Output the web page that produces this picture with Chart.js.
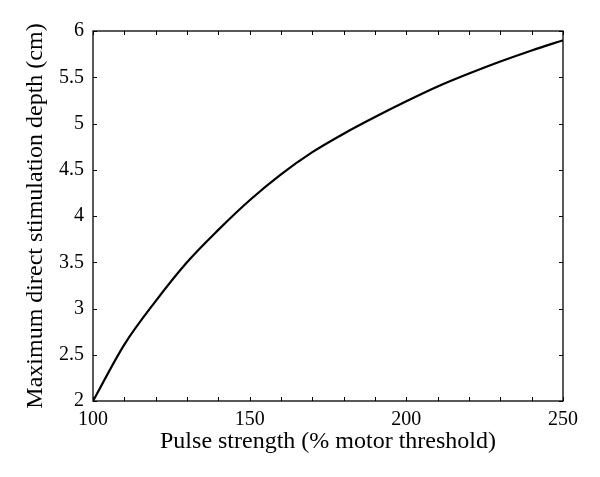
<!DOCTYPE html>
<html>
<head>
<meta charset="utf-8">
<script src="https://cdn.jsdelivr.net/npm/chart.js@4.4.1/dist/chart.umd.min.js"></script>
<style>
  html, body { margin: 0; padding: 0; background: #fff; }
  #wrap { width: 600px; height: 477px; }
</style>
</head>
<body>
<div id="wrap"><canvas id="c" width="600" height="477"></canvas></div>
<script>
// Data
const pulseStrength = [100, 110, 120, 130, 140, 150, 160, 170, 180, 190, 200, 210, 220, 230, 240, 250];
const maxDepth = [2.00, 2.61, 3.08, 3.50, 3.85, 4.17, 4.45, 4.69, 4.89, 5.07, 5.24, 5.40, 5.54, 5.67, 5.79, 5.90];
const xMinorTicks = [110, 120, 130, 140, 160, 170, 180, 190, 210, 220, 230, 240];
const xMajorTicks = [100, 150, 200, 250];
const yTicks = [2, 2.5, 3, 3.5, 4, 4.5, 5, 5.5, 6];
const xTitle = 'Pulse strength (% motor threshold)';
const yTitle = 'Maximum direct stimulation depth (cm)';

const FONT = "'Liberation Serif', 'DejaVu Serif', serif";

const boxPlugin = {
  id: 'boxTicks',
  afterDatasetsDraw(chart) {
    const {ctx, chartArea: a, scales: {x, y}} = chart;
    const L = 4;
    ctx.save();
    ctx.strokeStyle = '#000';
    ctx.lineWidth = 1;
    ctx.beginPath();
    const xs = xMinorTicks.concat(xMajorTicks);
    xs.forEach(v => {
      const px = Math.round(x.getPixelForValue(v)) + 0.5;
      ctx.moveTo(px, a.bottom); ctx.lineTo(px, a.bottom - L);
      ctx.moveTo(px, a.top); ctx.lineTo(px, a.top + L);
    });
    yTicks.forEach(v => {
      const py = Math.round(y.getPixelForValue(v)) + 0.5;
      ctx.moveTo(a.left, py); ctx.lineTo(a.left + L, py);
      ctx.moveTo(a.right, py); ctx.lineTo(a.right - L, py);
    });
    ctx.stroke();
    ctx.lineWidth = 1.3;
    ctx.strokeRect(a.left, a.top, a.right - a.left, a.bottom - a.top);
    ctx.restore();
  }
};

new Chart(document.getElementById('c'), {
  type: 'line',
  data: {
    datasets: [{
      data: pulseStrength.map((v, i) => ({x: v, y: maxDepth[i]})),
      borderColor: '#000',
      borderWidth: 2.2,
      pointRadius: 0,
      cubicInterpolationMode: 'monotone',
      fill: false
    }]
  },
  options: {
    responsive: false,
    animation: false,
    devicePixelRatio: 1,
    layout: { padding: { left: 0, right: 37, top: 31, bottom: 0 } },
    plugins: { legend: { display: false }, tooltip: { enabled: false } },
    scales: {
      x: {
        type: 'linear',
        min: 100, max: 250,
        afterBuildTicks(s) { s.ticks = xMajorTicks.map(v => ({value: v})); },
        afterFit(s) { s.height = 76; },
        grid: { display: false, drawTicks: false },
        border: { display: false },
        ticks: { color: '#000', padding: 7, font: { family: FONT, size: 20 }, maxRotation: 0,
                 callback: v => String(v) },
        title: { display: true, text: xTitle, color: '#000', font: { family: FONT, size: 24 }, padding: { top: 0, bottom: 21 } }
      },
      y: {
        type: 'linear',
        min: 2, max: 6,
        afterBuildTicks(s) { s.ticks = yTicks.map(v => ({value: v})); },
        afterFit(s) { s.width = 93; },
        grid: { display: false, drawTicks: false },
        border: { display: false },
        ticks: { color: '#000', padding: 9, font: { family: FONT, size: 20 },
                 callback: v => String(v) },
        title: { display: true, text: yTitle, color: '#000', font: { family: FONT, size: 24 }, padding: { top: 21, bottom: 0 } }
      }
    }
  },
  plugins: [boxPlugin]
});
</script>
</body>
</html>
